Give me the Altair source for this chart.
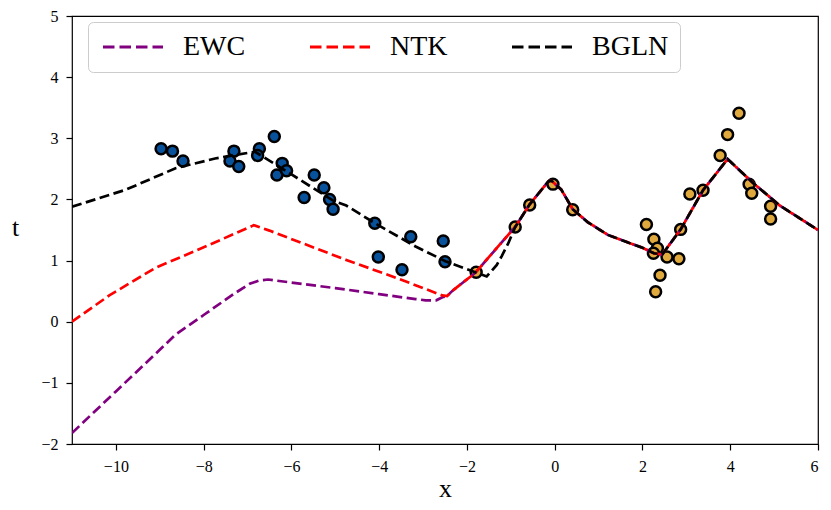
import altair as alt
import pandas as pd

# ---- data ----
task1_x = [-8.97, -8.71, -8.47, -7.31, -7.40, -7.20, -6.73, -6.77, -6.39, -6.21, -6.33, -6.11,
           -5.48, -5.71, -5.26, -5.13, -5.05, -4.10, -3.28, -2.54, -4.02, -3.48, -2.50]
task1_y = [2.83, 2.79, 2.63, 2.79, 2.63, 2.54, 2.83, 2.72, 3.03, 2.59, 2.40, 2.47,
           2.40, 2.03, 2.19, 2.00, 1.84, 1.61, 1.39, 1.32, 1.06, 0.85, 0.98]
task2_x = [-1.79, -0.90, -0.57, -0.04, 0.41, 4.20, 3.94, 3.77, 4.43, 4.49, 4.92, 4.92,
           3.08, 3.38, 2.87, 2.09, 2.26, 2.34, 2.25, 2.56, 2.83, 2.40, 2.30]
task2_y = [0.81, 1.55, 1.91, 2.25, 1.83, 3.41, 3.06, 2.72, 2.25, 2.10, 1.89, 1.68,
           2.09, 2.15, 1.51, 1.59, 1.35, 1.20, 1.12, 1.06, 1.03, 0.76, 0.49]

# common right-hand part of all three fitted curves
tail_x = [-0.57, -0.15, -0.08, 0.15, 0.41, 0.75, 1.21, 1.73, 2.00, 2.26, 2.45, 2.87, 3.38, 3.94, 4.52, 5.13, 6.00]
tail_y = [1.92, 2.29, 2.31, 2.16, 1.84, 1.63, 1.42, 1.28, 1.21, 1.12, 1.10, 1.51, 2.15, 2.66, 2.27, 1.90, 1.50]

ewc_x = [-11.0, -10.0, -9.0, -8.64, -8.0, -7.3, -6.95, -6.75, -6.53, -6.0, -5.0, -4.0, -3.17, -2.94,
         -2.7, -2.56, -2.45, -2.34, -1.81, -1.06, -0.90] + tail_x
ewc_y = [-1.82, -1.14, -0.46, -0.21, 0.11, 0.46, 0.62, 0.67, 0.69, 0.64, 0.55, 0.45, 0.37, 0.35,
         0.35, 0.40, 0.42, 0.50, 0.80, 1.42, 1.55] + tail_y

ntk_x = [-11.0, -10.15, -9.1, -7.96, -6.91, -6.86, -6.5, -4.75, -3.62, -2.56, -2.45, -2.34,
         -1.81, -1.06, -0.90] + tail_x
ntk_y = [0.00, 0.43, 0.88, 1.23, 1.56, 1.58, 1.49, 1.01, 0.72, 0.43, 0.42, 0.50,
         0.80, 1.42, 1.55] + tail_y

bgln_x = [-11.0, -9.77, -8.64, -7.74, -6.83, -6.11, -5.05, -4.75, -4.07, -3.17, -2.49, -1.81,
          -1.55, -1.32, -1.21, -1.06, -0.90] + tail_x
bgln_y = [1.88, 2.16, 2.51, 2.67, 2.78, 2.46, 1.98, 1.90, 1.60, 1.23, 0.99, 0.81,
          0.74, 0.93, 1.07, 1.28, 1.55] + tail_y

methods = ["EWC", "NTK", "BGLN"]
method_colors = ["#800080", "#ff0000", "#000000"]
x_ticks = [-10, -8, -6, -4, -2, 0, 2, 4, 6]
y_ticks = [-2, -1, 0, 1, 2, 3, 4, 5]

# ---- tables ----
pts1 = pd.DataFrame({"x": task1_x, "t": task1_y})
pts2 = pd.DataFrame({"x": task2_x, "t": task2_y})
lines = pd.concat([
    pd.DataFrame({"x": ewc_x, "t": ewc_y, "method": "EWC", "i": range(len(ewc_x))}),
    pd.DataFrame({"x": ntk_x, "t": ntk_y, "method": "NTK", "i": range(len(ntk_x))}),
    pd.DataFrame({"x": bgln_x, "t": bgln_y, "method": "BGLN", "i": range(len(bgln_x))}),
], ignore_index=True)

FONT = "Liberation Serif"

xenc = alt.X("x:Q", scale=alt.Scale(domain=[-11, 6], nice=False, zero=False),
             axis=alt.Axis(values=x_ticks, title="x", titleY=52, titleBaseline="alphabetic"))
yenc = alt.Y("t:Q", scale=alt.Scale(domain=[-2, 5], nice=False, zero=False),
             axis=alt.Axis(values=y_ticks, title="t", titleAngle=0, titleX=-57, titleY=219,
                           titleAlign="center", titleBaseline="alphabetic"))

p1 = alt.Chart(pts1).mark_circle(size=120, color="#08529c", opacity=1,
                                 stroke="black", strokeWidth=2.5).encode(x=xenc, y=yenc)
p2 = alt.Chart(pts2).mark_circle(size=120, color="#e0a93d", opacity=1,
                                 stroke="black", strokeWidth=2.5).encode(x=xenc, y=yenc)

color = alt.Color("method:N",
                  scale=alt.Scale(domain=methods, range=method_colors),
                  legend=alt.Legend(title=None, orient="none", legendX=16, legendY=6,
                                    direction="horizontal", columns=3,
                                    symbolType="M-3,0H3", symbolSize=400, symbolStrokeWidth=3,
                                    symbolDash=[11.5, 5], symbolOffset=20,
                                    labelFont=FONT, labelFontSize=28, labelColor="black",
                                    labelOffset=36, columnPadding=58, padding=11,
                                    fillColor="white", strokeColor="#cccccc",
                                    cornerRadius=5))

def line_layer(name):
    return alt.Chart(lines).transform_filter(alt.datum.method == name).mark_line(
        strokeWidth=2.7, strokeDash=[10, 4.5], strokeCap="butt", clip=True
    ).encode(x=xenc, y=yenc, color=color, order="i:Q")

chart = alt.layer(p1, p2, line_layer("EWC"), line_layer("NTK"), line_layer("BGLN")).properties(
    width=746, height=428,
    autosize=alt.AutoSizeParams(type="none"),
    padding={"left": 64, "top": 8, "right": 5, "bottom": 58},
    background="white",
).configure_view(stroke="black", strokeWidth=1.2).configure_axis(
    grid=False, domain=False,
    labelFont=FONT, labelFontSize=16, labelColor="black", labelPadding=8,
    tickColor="black", tickSize=6, tickWidth=1.2,
    titleFont=FONT, titleFontSize=26, titleFontWeight="normal", titleColor="black",
)

chart.save("out.html", embed_options={"renderer": "svg", "actions": False})
